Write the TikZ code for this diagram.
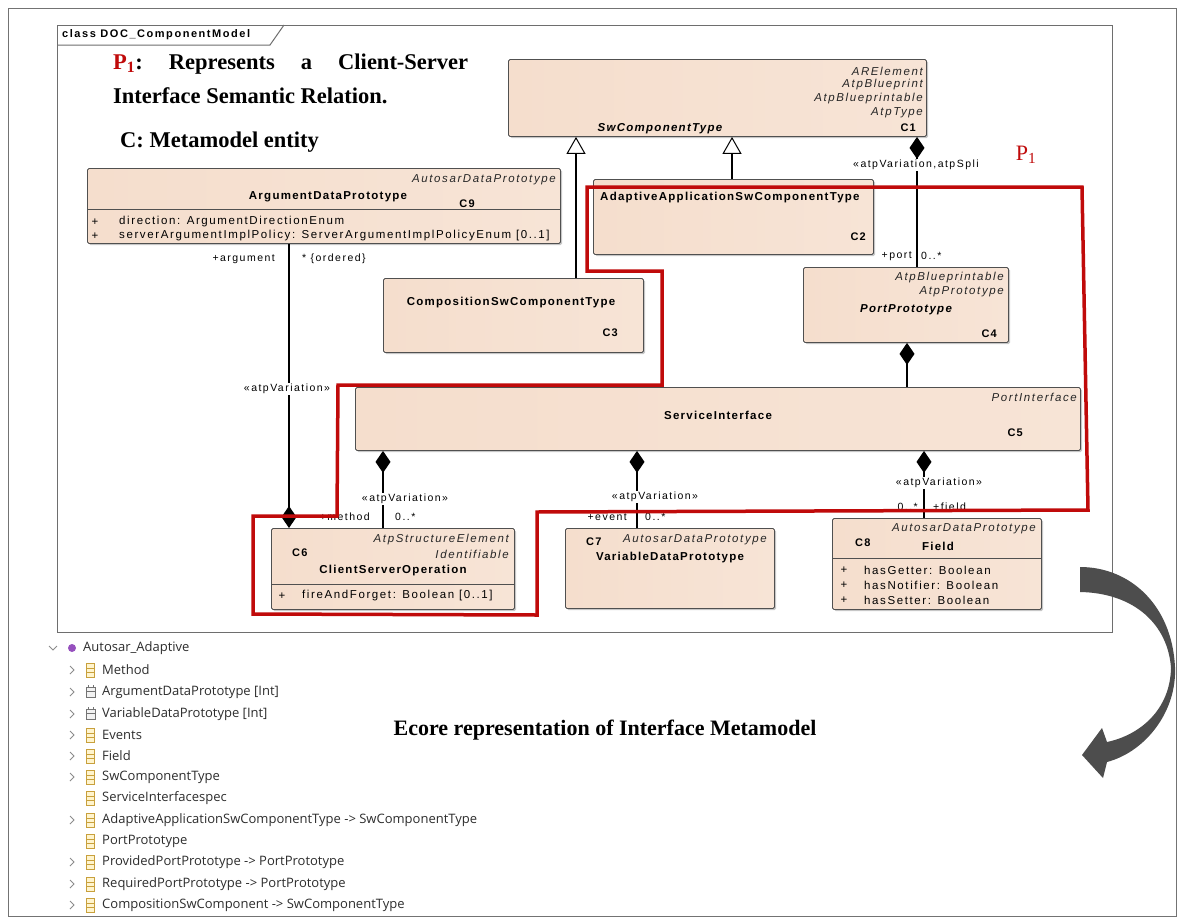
\documentclass[tikz,border=0pt]{standalone}
\usepackage{fontspec}
\setmainfont{Liberation Serif}
\newfontfamily\umlfont[LetterSpace=14]{Liberation Sans}
\newfontfamily\umlb[LetterSpace=11]{Liberation Sans}
\newfontfamily\treefont{Open Sans}
\usetikzlibrary{arrows.meta,shadows,calc}

\definecolor{peachL}{RGB}{245,222,205}
\definecolor{peachM}{RGB}{253,244,238}
\definecolor{peachR}{RGB}{247,228,214}
\definecolor{boxline}{RGB}{80,80,80}
\definecolor{framec}{RGB}{110,110,110}
\definecolor{pred}{RGB}{192,10,10}
\definecolor{arrowgray}{RGB}{77,77,77}
\definecolor{treetxt}{RGB}{45,45,45}
\definecolor{clsedge}{RGB}{200,160,60}
\definecolor{clsfill}{RGB}{255,244,205}
\definecolor{pkgpurple}{RGB}{150,80,190}

\tikzset{
  umlbox/.style={draw=boxline, line width=0.9pt, rounded corners=1.5pt,
    left color=peachL, middle color=peachM, right color=peachR,
    drop shadow={shadow xshift=1.6pt, shadow yshift=-1.6pt, fill=black, opacity=0.22},
    anchor=north west, inner sep=0},
  ster/.style={font=\umlfont\itshape\fontsize{11.5}{13}\selectfont, inner sep=0, text=black!85},
  uname/.style={font=\umlb\bfseries\fontsize{11.5}{13}\selectfont, inner sep=0},
  unameit/.style={font=\umlb\bfseries\itshape\fontsize{11.5}{13}\selectfont, inner sep=0},
  cid/.style={font=\umlb\bfseries\fontsize{11}{12}\selectfont, inner sep=0},
  attr/.style={font=\umlfont\fontsize{11.5}{13}\selectfont, inner sep=0},
  lbl/.style={font=\umlfont\fontsize{10.5}{12}\selectfont, inner sep=1pt},
  lblw/.style={lbl, fill=white},
  captxt/.style={font=\bfseries\fontsize{22.5}{26}\selectfont\frenchspacing, inner sep=0},
  framelbl/.style={font=\umlfont\bfseries\fontsize{11}{12}\selectfont, inner sep=0},
  conn/.style={line width=1.6pt, black},
  gen/.style={conn, -{Triangle[width=19pt,length=17pt,fill=white,line width=1pt]}},
  comp/.style={conn, {Diamond[width=15pt,length=22pt]}-},
  compend/.style={conn, -{Diamond[width=15pt,length=22pt]}},
  pline/.style={draw=pred, line width=3.5pt, line join=miter},
  treelbl/.style={font=\treefont\fontsize{13}{15}\selectfont, text=treetxt, inner sep=0},
  chev/.style={draw=black!45, line width=0.9pt},
  clsicon/.style={draw=clsedge, fill=clsfill, line width=0.8pt},
  dticon/.style={draw=black!55, fill=black!5, line width=0.8pt}
}

% a class box given by its corners (left, top, right, bottom)
\newcommand\ubox[5]{\node[umlbox, minimum width={#4pt-#2pt}, minimum height={#5pt-#3pt}] (#1) at (#2,#3) {};}

\begin{document}
\begin{tikzpicture}[x=1pt,y=-1pt]
\useasboundingbox (0,0) rectangle (1184,924);
\fill[white] (0,0) rectangle (1184,924);
\draw[black!55, line width=0.8pt] (8,8) rectangle (1176,916);

% diagram frame with its name tab
\draw[framec, line width=1pt] (57,25) rectangle (1112,632);
\draw[framec, line width=1pt] (57,45) -- (270,45) -- (284,25);
\node[framelbl, anchor=west] (title) at (62,35) {class DOC\_ComponentModel};

% legend
\node[captxt, anchor=base west] (capA) at (113,69) {\makebox[355pt][s]{\textcolor{pred}{P\textsubscript{1}}: Represents a Client-Server}};
\node[captxt, anchor=base west] (capB) at (113,103) {Interface Semantic Relation.};
\node[captxt, anchor=base west] (capC) at (120,147) {C: Metamodel entity};

% class boxes
\ubox{c1}{508}{59}{926}{136}
\ubox{c2}{593}{179}{873}{254}
\ubox{c9}{87}{168}{560}{243}
\ubox{c3}{383}{278}{643}{352}
\ubox{c4}{803}{267}{1008}{342}
\ubox{c5}{355}{387}{1080}{450}
\ubox{c6}{271}{528}{514}{609}
\ubox{c7}{565}{528}{774}{608}
\ubox{c8}{832}{518}{1041}{609}

% attribute compartments
\draw[boxline, line width=0.9pt] (c9.west |- 0,209) -- (c9.east |- 0,209);
\draw[boxline, line width=0.9pt] (c6.west |- 0,584) -- (c6.east |- 0,584);
\draw[boxline, line width=0.9pt] (c8.west |- 0,558) -- (c8.east |- 0,558);

% SwComponentType
\node[ster, anchor=east] (c1a) at (923,71) {ARElement};
\node[ster, anchor=east] (c1b) at (923,85) {AtpBlueprint};
\node[ster, anchor=east] (c1c) at (923,99) {AtpBlueprintable};
\node[ster, anchor=east] (c1d) at (923,113) {AtpType};
\node[cid, anchor=east] (c1id) at (916,128) {C1};
\node[unameit] (c1n) at (660,129) {SwComponentType};

% AdaptiveApplicationSwComponentType
\node[uname, anchor=west] (c2n) at (600,198) {AdaptiveApplicationSwComponentType};
\node[cid, anchor=east] (c2id) at (866,237) {C2};

% ArgumentDataPrototype
\node[ster, anchor=east] (c9a) at (556,180) {AutosarDataPrototype};
\node[uname] (c9n) at (328,197) {ArgumentDataPrototype};
\node[cid] (c9id) at (467,204) {C9};
\node[attr] (c9p1) at (95,222) {+};
\node[attr, anchor=west] (c9t1) at (119,222) {direction: ArgumentDirectionEnum};
\node[attr] (c9p2) at (95,236) {+};
\node[attr, anchor=west] (c9t2) at (119,236) {serverArgumentImplPolicy: ServerArgumentImplPolicyEnum [0..1]};

% CompositionSwComponentType
\node[uname] (c3n) at (511,303) {CompositionSwComponentType};
\node[cid, anchor=east] (c3id) at (618,333) {C3};

% PortPrototype
\node[ster, anchor=east] (c4a) at (1004,278) {AtpBlueprintable};
\node[ster, anchor=east] (c4b) at (1004,292) {AtpPrototype};
\node[unameit] (c4n) at (906,310) {PortPrototype};
\node[cid, anchor=east] (c4id) at (997,334) {C4};

% ServiceInterface
\node[ster, anchor=east] (c5a) at (1077,397) {PortInterface};
\node[uname] (c5n) at (718,415) {ServiceInterface};
\node[cid, anchor=east] (c5id) at (1023,433) {C5};

% ClientServerOperation
\node[ster, anchor=east] (c6a) at (509,540) {AtpStructureElement};
\node[ster, anchor=east] (c6b) at (509,554) {Identifiable};
\node[cid, anchor=west] (c6id) at (292,553) {C6};
\node[uname] (c6n) at (393,571) {ClientServerOperation};
\node[attr] (c6p1) at (282,596) {+};
\node[attr, anchor=west] (c6t1) at (302,596) {fireAndForget: Boolean [0..1]};

% VariableDataPrototype
\node[cid, anchor=west] (c7id) at (586,542) {C7};
\node[ster, anchor=east] (c7a) at (767,540) {AutosarDataPrototype};
\node[uname] (c7n) at (670,558) {VariableDataPrototype};

% Field
\node[ster, anchor=east] (c8a) at (1036,529) {AutosarDataPrototype};
\node[cid, anchor=west] (c8id) at (855,543) {C8};
\node[uname] (c8n) at (938,546) {Field};
\node[attr] (c8p1) at (844,570) {+};
\node[attr, anchor=west] (c8t1) at (864,570) {hasGetter: Boolean};
\node[attr] (c8p2) at (844,585) {+};
\node[attr, anchor=west] (c8t2) at (864,585) {hasNotifier: Boolean};
\node[attr] (c8p3) at (844,600) {+};
\node[attr, anchor=west] (c8t3) at (864,600) {hasSetter: Boolean};

% connector columns
\coordinate (xa) at (576,0);
\coordinate (xb) at (732,0);
\coordinate (xc) at (917,0);
\coordinate (xd) at (907,0);
\coordinate (xe) at (383,0);
\coordinate (xf) at (637,0);
\coordinate (xg) at (924,0);
\coordinate (xh) at (289,0);

% generalizations
\draw[gen] (xa |- c3.north) -- (xa |- c1.south);
\draw[gen] (xb |- c2.north) -- (xb |- c1.south);

% compositions
\draw[comp] (xc |- c1.south) -- (xc |- c4.north);
\draw[comp] (xd |- c4.south) -- (xd |- c5.north);
\draw[comp] (xe |- c5.south) -- (xe |- c6.north);
\draw[comp] (xf |- c5.south) -- (xf |- c7.north);
\draw[comp] (xg |- c5.south) -- (xg |- c8.north);
\draw[compend] (xh |- c9.south) -- (xh |- c6.north);

% role and multiplicity labels
\node[lblw, anchor=west] (l1) at (852,165) {«atpVariation,atpSpli};
\node[lbl, anchor=east] (l2) at (913,256) {+port};
\node[lbl, anchor=west] (l3) at (920,256) {0..*};
\node[lbl, anchor=east] (l4) at (276,259) {+argument};
\node[lbl, anchor=west] (l5) at (301,259) {* \{ordered\}};
\node[lblw] (l6) at (287,389) {«atpVariation»};
\node[lblw] (l7) at (405,499) {«atpVariation»};
\node[lbl, anchor=east] (l8) at (371,517) {+method};
\node[lbl, anchor=west] (l9) at (394,517) {0..*};
\node[lblw] (l10) at (655,497) {«atpVariation»};
\node[lbl, anchor=east] (l11) at (628,517) {+event};
\node[lbl, anchor=west] (l12) at (644,517) {0..*};
\node[lblw] (l13) at (939,483) {«atpVariation»};
\node[lbl, anchor=east] (l14) at (919,507) {0..*};
\node[lbl, anchor=west] (l15) at (932,507) {+field};

% highlighted region P1
\draw[pline] (587,187) -- (1082,187) -- (1088,510) -- (537,512) -- (537,615)
  -- (253,614) -- (253,516) -- (337,516) -- (338,385) -- (662,385)
  -- (662,271) -- (587,271) -- cycle;
\node[font=\fontsize{22}{26}\selectfont, text=pred, inner sep=0] (p1r) at (1026,155) {P\textsubscript{1}};

% curved transformation arrow (ribbon that twists at its rightmost point)
\fill[arrowgray] (1080,567) .. controls (1130,567) and (1172,605) .. (1175,667)
  .. controls (1177,712) and (1145,752) .. (1107,762)
  -- (1103,778) -- (1082,755) -- (1102,728) -- (1107,742)
  .. controls (1140,735) and (1170,710) .. (1171,668)
  .. controls (1168,625) and (1135,593) .. (1080,592) -- cycle;

\node[captxt, font=\bfseries\fontsize{22}{26}\selectfont] (ecore) at (605,730) {Ecore representation of Interface Metamodel};

% Ecore package tree
\draw[chev] (49,646) -- (53,650) -- (57,646);
\fill[pkgpurple] (72,648) circle (4);
\node[treelbl, anchor=west] (pkg) at (83,648) {Autosar\_Adaptive};
\foreach \t/\yy/\ch/\ic [count=\k] in {
  Method/670/1/c,
  {ArgumentDataPrototype [Int]}/692/1/d,
  {VariableDataPrototype [Int]}/714/1/d,
  Events/735/1/c,
  Field/756/1/c,
  SwComponentType/777/1/c,
  ServiceInterfacespec/798/0/c,
  {AdaptiveApplicationSwComponentType -> SwComponentType}/820/1/c,
  PortPrototype/841/0/c,
  {ProvidedPortPrototype -> PortPrototype}/862/1/c,
  {RequiredPortPrototype -> PortPrototype}/884/1/c,
  {CompositionSwComponent -> SwComponentType}/905/1/c}{
  \node[treelbl, anchor=west] (row\k) at (102,\yy) {\t};
  \ifnum\ch=1
    \draw[chev] (70,\yy-4) -- (74,\yy) -- (70,\yy+4);
  \fi
  \if c\ic
    \draw[clsicon] (86,\yy-7) rectangle (94,\yy+7);
    \draw[draw=clsedge, line width=0.7pt] (86,\yy-2) -- (94,\yy-2) (86,\yy+2) -- (94,\yy+2);
  \else
    \draw[dticon] (86,\yy-5) rectangle (95,\yy+5);
    \draw[draw=black!55, line width=0.7pt] (86,\yy-1) -- (95,\yy-1) (88,\yy-7) -- (88,\yy-4) (93,\yy-7) -- (93,\yy-4);
  \fi
}
\end{tikzpicture}
\end{document}
